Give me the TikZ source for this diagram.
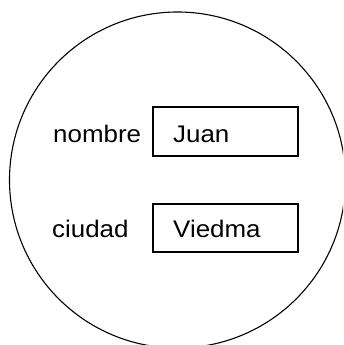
\documentclass[tikz,border=0pt]{standalone}
\usepackage{fontspec}
\setmainfont{Liberation Sans}
\begin{document}
\begin{tikzpicture}[x=1pt,y=-1pt,
  lbl/.style={inner sep=0pt,anchor=base west,font=\fontsize{24}{27}\selectfont},
  valbox/.style={draw,line width=1.4pt,inner sep=0pt}]
\useasboundingbox (0,0) rectangle (343,345);
\begin{scope}
\clip (0,0) rectangle (343,345);
\draw[line width=1.1pt] (177.5,180) circle[radius=168];
\end{scope}
\node[valbox,minimum width=145pt,minimum height=49pt] (b1) at (225.5,131.5) {};
\node[valbox,minimum width=145pt,minimum height=48pt] (b2) at (225.5,228) {};
\node[lbl] (n1) at (53,142) {\scalebox{1.08}[1]{nombre}};
\node[lbl] (v1) at (173,142) {\scalebox{1.08}[1]{Juan}};
\node[lbl] (n2) at (52,237) {\scalebox{1.08}[1]{ciudad}};
\node[lbl] (v2) at (173,237) {\scalebox{1.08}[1]{Viedma}};
\end{tikzpicture}
\end{document}
